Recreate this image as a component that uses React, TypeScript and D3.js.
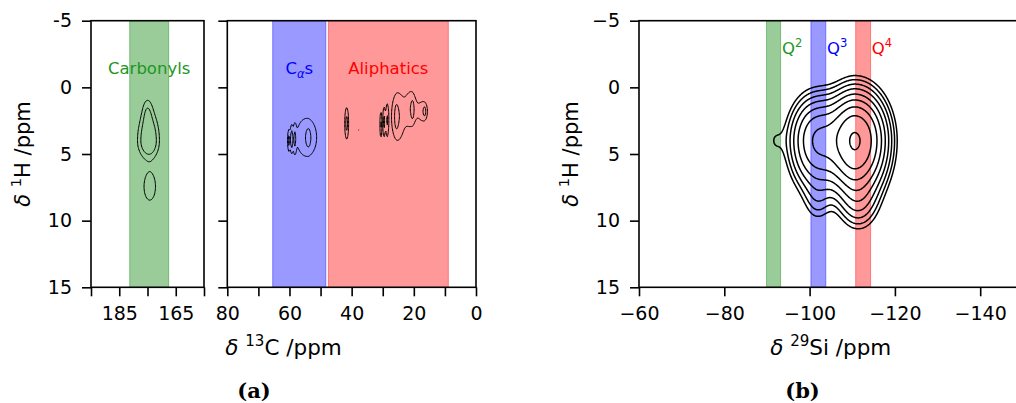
import React, { useRef, useEffect } from 'react';
import * as d3 from 'd3';

const W = 1016;
const H = 403;
const TOP = 20.7;
const BOTTOM = 287.3;
const FONT = 'DejaVu Sans';

// 1H axis, shared by all panels
const hDomain = [-5, 15];
const hTicks = [-5, 0, 5, 10, 15];

// 13C axes (broken: carbonyl part + aliphatic part)
const coDomain = [195, 155];
const coTicks = [195, 185, 175, 165, 155];
const coTickLabels = [185, 165];
const alDomain = [80, 0];
const alTicks = [80, 70, 60, 50, 40, 30, 20, 10, 0];
const alTickLabels = [80, 60, 40, 20, 0];

// 29Si axis
const siDomain = [-60, -150];
const siTicks = [-60, -80, -100, -120, -140];

// shaded regions [from, to] in ppm
const carbonylBand = [181.3, 167.5];
const alphaBand = [65.4, 48.3];
const aliphaticBand = [47.5, 8.9];
const q2Band = [-89.9, -93.2];
const q3Band = [-100.3, -103.8];
const q4Band = [-110.8, -114.3];

// cross peaks: [x ppm, 1H ppm, width left, width right, width up, width down, height]
const carbonylPeaks = [
  [174.5, 4.0, 2.6, 2.4, 1.4, 0.9, 1.0],
  [175.0, 1.8, 1.3, 1.3, 0.8, 0.8, 0.35],
  [174.2, 7.45, 2.0, 2.0, 1.0, 1.0, 0.5],
];
const aliphaticPeaks = [
  [54.5, 3.75, 3.2, 3.2, 1.4, 1.4, 0.5],
  [53.9, 3.8, 0.5, 0.5, 0.5, 0.5, 0.3],
  [60.2, 4.0, 0.3, 0.3, 0.6, 0.6, 0.55],
  [59.3, 3.9, 0.3, 0.3, 0.7, 0.7, 0.6],
  [58.3, 3.9, 0.35, 0.35, 0.8, 0.8, 0.4],
  [41.6, 2.7, 0.5, 0.5, 0.95, 0.95, 0.65],
  [37.8, 3.2, 0.12, 0.12, 0.3, 0.3, 0.33],
  [30.6, 2.8, 0.25, 0.25, 0.8, 0.8, 0.6],
  [29.6, 2.6, 0.3, 0.3, 0.9, 0.9, 0.6],
  [28.6, 2.5, 0.35, 0.35, 1.0, 1.0, 0.5],
  [25.2, 2.2, 1.8, 1.8, 1.6, 1.6, 0.55],
  [25.6, 2.2, 0.35, 0.35, 0.6, 0.6, 0.3],
  [20.8, 1.6, 1.5, 1.5, 1.2, 1.2, 0.5],
  [20.4, 1.7, 0.3, 0.3, 0.5, 0.5, 0.3],
  [16.9, 1.8, 1.3, 1.3, 0.7, 0.7, 0.48],
  [16.5, 1.8, 0.3, 0.3, 0.3, 0.3, 0.25],
];
const siliconPeaks = [
  [-110.8, 4.0, 3.5, 4.0, 2.0, 2.2, 0.97],
  [-101.8, 4.0, 3.7, 3.7, 1.9, 2.1, 0.45],
  [-91.6, 4.0, 1.6, 1.6, 1.0, 1.0, 0.04],
  [-111.5, 8.7, 3.0, 3.0, 1.3, 1.4, 0.1],
  [-101.8, 8.5, 2.2, 2.2, 1.2, 1.3, 0.055],
];

const protonLevels = [0.3, 0.55];
const siliconLevels = [0.05, 0.072, 0.104, 0.149, 0.215, 0.309, 0.445, 0.641, 0.95];

function peakValue(p: number[], x: number, y: number) {
  const dx = x - p[0];
  const dy = y - p[1];
  const sx = dx > 0 ? p[2] : p[3];
  const sy = dy < 0 ? p[4] : p[5];
  return p[6] * Math.exp(-0.5 * ((dx * dx) / (sx * sx) + (dy * dy) / (sy * sy)));
}

function contourPaths(peaks, levels, xr, yr, step, xs, ys) {
  const [xa, xb] = xr;
  const [ya, yb] = yr;
  const [sx, sy] = step;
  const nx = Math.round((xb - xa) / sx) + 1;
  const ny = Math.round((yb - ya) / sy) + 1;
  const vals = new Array(nx * ny);
  for (let j = 0; j < ny; j++) {
    const yv = ya + j * sy;
    for (let i = 0; i < nx; i++) {
      const xv = xa + i * sx;
      let s = 0;
      for (const p of peaks) s += peakValue(p, xv, yv);
      vals[j * nx + i] = s;
    }
  }
  const proj = d3.geoTransform({
    point: function (this: any, px: number, py: number) {
      this.stream.point(xs(xa + (px - 0.5) * sx), ys(ya + (py - 0.5) * sy));
    },
  });
  const path = d3.geoPath(proj);
  return d3.contours().size([nx, ny]).thresholds(levels)(vals).map(c => path(c));
}

// text with italic / super / subscript parts
function richText(text, parts, fs) {
  let shift = 0;
  parts.forEach(([s, k]) => {
    const small = k === 'sup' || k === 'sub' || k === 'isub';
    const target = k === 'sup' ? -0.42 * fs : small ? 0.25 * fs : 0;
    const ts = text.append('tspan').text(s).attr('dy', target - shift);
    shift = target;
    if (small) ts.attr('font-size', 0.7 * fs);
    if (k === 'i' || k === 'isub') ts.attr('font-style', 'italic');
  });
}

function drawFrame(g, xs, ys, xTicks, xFmt, yFmt) {
  const [x0, x1] = xs.range();
  const left = g.append('g').attr('transform', `translate(${x0},0)`)
    .call(d3.axisLeft(ys).tickValues(hTicks).tickSize(9).tickPadding(10).tickFormat(yFmt));
  const bottom = g.append('g').attr('transform', `translate(0,${BOTTOM})`)
    .call(d3.axisBottom(xs).tickValues(xTicks).tickSize(9).tickPadding(10).tickFormat(xFmt));
  [left, bottom].forEach(a => {
    a.select('.domain').remove();
    a.selectAll('line').attr('stroke', '#000').attr('stroke-width', 1.6);
    a.selectAll('text').attr('font-family', FONT).attr('font-size', 19).attr('fill', '#000');
  });
  g.append('rect')
    .attr('x', x0).attr('y', TOP)
    .attr('width', x1 - x0).attr('height', BOTTOM - TOP)
    .attr('fill', 'none').attr('stroke', '#000').attr('stroke-width', 1.6);
}

function drawBand(g, xs, band, color) {
  const a = xs(band[0]);
  const b = xs(band[1]);
  g.append('rect')
    .attr('x', Math.min(a, b)).attr('y', TOP)
    .attr('width', Math.abs(b - a)).attr('height', BOTTOM - TOP)
    .attr('fill', color).attr('fill-opacity', 0.4)
    .attr('stroke', color).attr('stroke-opacity', 0.4).attr('stroke-width', 1);
}

function drawContours(g, id, xs, ys, paths, width) {
  const [x0, x1] = xs.range();
  g.append('clipPath').attr('id', id)
    .append('rect').attr('x', x0).attr('y', TOP).attr('width', x1 - x0).attr('height', BOTTOM - TOP);
  g.append('g').attr('clip-path', `url(#${id})`)
    .selectAll('path').data(paths).enter().append('path')
    .attr('d', d => d)
    .attr('fill', 'none').attr('stroke', '#000').attr('stroke-width', width)
    .attr('stroke-linejoin', 'round');
}

function label(g, x, y, parts, color, anchor, fs = 16.5) {
  const t = g.append('text')
    .attr('x', x).attr('y', y)
    .attr('font-family', FONT).attr('font-size', fs)
    .attr('fill', color).attr('text-anchor', anchor)
    .style('white-space', 'pre');
  richText(t, parts, fs);
  return t;
}

const GREEN = '#008000';
const GREEN_TEXT = '#1e961e';
const BLUE = '#0000ff';
const RED = '#ff0000';

export default function App() {
  const svgRef = useRef<SVGSVGElement>(null);

  useEffect(() => {
    const svg = d3.select(svgRef.current);
    svg.selectAll('*').remove();

    const ys = d3.scaleLinear().domain(hDomain).range([TOP, BOTTOM]);
    const xCo = d3.scaleLinear().domain(coDomain).range([91, 204]);
    const xAl = d3.scaleLinear().domain(alDomain).range([227.3, 476]);
    const xSi = d3.scaleLinear().domain(siDomain).range([639, 639 + 90 * 4.265]);

    // ---- panel a, carbonyl part
    const gA = svg.append('g');
    drawBand(gA, xCo, carbonylBand, GREEN);
    drawContours(gA, 'clipCo', xCo, ys,
      contourPaths(carbonylPeaks, protonLevels, [166, 184], [-2, 11], [0.25, 0.1], xCo, ys), 1);
    label(gA, xCo((carbonylBand[0] + carbonylBand[1]) / 2), ys(-1), [['Carbonyls', '']], GREEN_TEXT, 'middle');
    drawFrame(gA, xCo, ys, coTicks,
      d => (coTickLabels.includes(d) ? String(d) : ''), d => String(d));

    // ---- panel a, aliphatic part
    const gB = svg.append('g');
    drawBand(gB, xAl, alphaBand, BLUE);
    drawBand(gB, xAl, aliphaticBand, RED);
    drawContours(gB, 'clipAl', xAl, ys,
      contourPaths(aliphaticPeaks, protonLevels, [8, 68], [-2, 9], [0.25, 0.1], xAl, ys), 1);
    label(gB, xAl((alphaBand[0] + alphaBand[1]) / 2), ys(-1), [['C', ''], ['α', 'isub'], ['s', '']], BLUE, 'middle');
    label(gB, xAl((aliphaticBand[0] + aliphaticBand[1]) / 2), ys(-1), [['Aliphatics', '']], RED, 'middle');
    drawFrame(gB, xAl, ys, alTicks,
      d => (alTickLabels.includes(d) ? String(d) : ''), () => '');

    // ---- panel b
    const gC = svg.append('g');
    drawBand(gC, xSi, q2Band, GREEN);
    drawBand(gC, xSi, q3Band, BLUE);
    drawBand(gC, xSi, q4Band, RED);
    drawContours(gC, 'clipSi', xSi, ys,
      contourPaths(siliconPeaks, siliconLevels, [-132, -82], [-4, 14], [0.15, 0.05], xSi, ys), 1.5);
    label(gC, xSi(-93.5), ys(-2.5), [['Q', ''], ['2', 'sup']], GREEN_TEXT, 'start');
    label(gC, xSi(-104.1), ys(-2.5), [['Q', ''], ['3', 'sup']], BLUE, 'start');
    label(gC, xSi(-114.6), ys(-2.5), [['Q', ''], ['4', 'sup']], RED, 'start');
    drawFrame(gC, xSi, ys, siTicks,
      d => (d < 0 ? '\u2212' + Math.abs(d) : String(d)),
      d => (d < 0 ? '\u2212' + Math.abs(d) : String(d)));

    // ---- axis titles and captions
    const hTitle = [['δ', 'i'], [' ', ''], ['1', 'sup'], ['H /ppm', '']];
    label(svg, 0, 0, hTitle, '#000', 'middle', 21).attr('transform', `translate(30,${(TOP + BOTTOM) / 2}) rotate(-90)`);
    label(svg, 0, 0, hTitle, '#000', 'middle', 21).attr('transform', `translate(578,${(TOP + BOTTOM) / 2}) rotate(-90)`);
    label(svg, 283.5, 355, [['δ', 'i'], [' ', ''], ['13', 'sup'], ['C /ppm', '']], '#000', 'middle', 21.5);
    label(svg, 830.7, 355, [['δ', 'i'], [' ', ''], ['29', 'sup'], ['Si /ppm', '']], '#000', 'middle', 21.5);

    svg.append('text').attr('x', 254).attr('y', 398)
      .attr('text-anchor', 'middle').attr('font-family', 'DejaVu Serif')
      .attr('font-weight', 'bold').attr('font-size', 21).text('(a)');
    svg.append('text').attr('x', 802.5).attr('y', 398)
      .attr('text-anchor', 'middle').attr('font-family', 'DejaVu Serif')
      .attr('font-weight', 'bold').attr('font-size', 21).text('(b)');
  }, []);

  return (
    <svg ref={svgRef} width={W} height={H}
      style={{ position: 'absolute', left: 0, top: 0, background: '#fff' }} />
  );
}
